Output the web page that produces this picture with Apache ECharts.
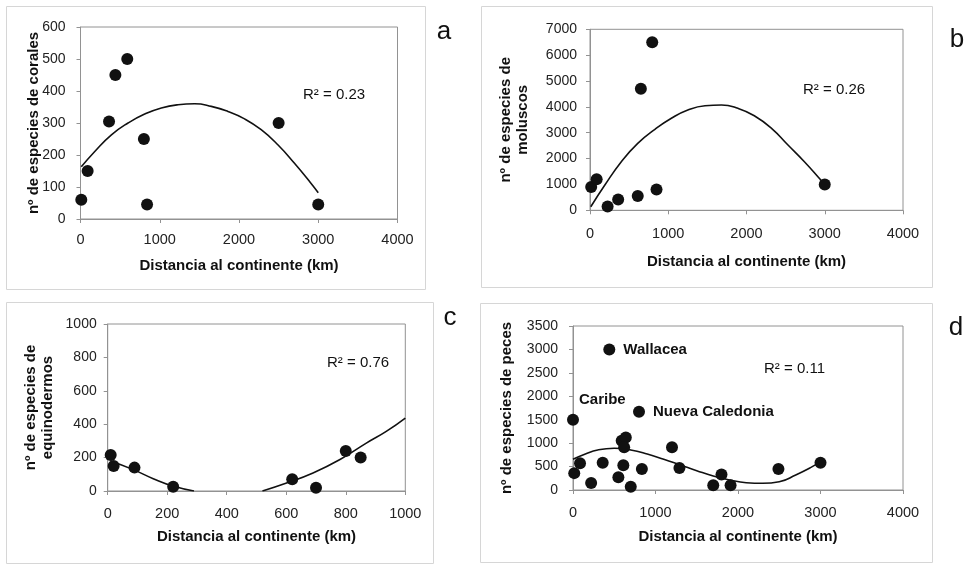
<!DOCTYPE html>
<html>
<head>
<meta charset="utf-8">
<script src="https://cdn.jsdelivr.net/npm/echarts@6/dist/echarts.min.js"></script>
<style>
  html, body { margin: 0; padding: 0; background: #fff; }
  #chart { width: 973px; height: 564px; }
</style>
</head>
<body>
<div id="chart"></div>
<script>
// (a) corales
const coralesDist = [10, 90, 360, 440, 590, 800, 840, 2500, 3000];
const coralesSpp  = [60, 150, 305, 450, 500, 250, 45, 300, 45];
const coralesTrendX = [10, 180, 390, 600, 810, 1020, 1230, 1440, 1650, 1860, 2070, 2280, 2490, 2700, 2910, 3000];
const coralesTrendY = [163, 211, 263, 300, 328, 347, 357, 360, 352, 336, 313, 279, 232, 174, 111, 82];
const coralesR2 = 'R² = 0.23';

// (b) moluscos
const moluscosDist = [15, 85, 225, 360, 610, 650, 795, 850, 3000];
const moluscosSpp  = [900, 1200, 150, 420, 550, 4700, 6500, 800, 1000];
const moluscosTrendX = [10, 190, 400, 610, 830, 1040, 1250, 1470, 1680, 1890, 2100, 2320, 2530, 2740, 2950, 3000];
const moluscosTrendY = [136, 976, 1878, 2590, 3132, 3558, 3879, 4046, 4073, 3945, 3659, 3171, 2524, 1878, 1169, 1003];
const moluscosR2 = 'R² = 0.26';

// (c) equinodermos (trend dips below 0 between the two visible pieces)
const equinoDist = [10, 20, 90, 220, 620, 700, 800, 850];
const equinoSpp  = [215, 150, 140, 25, 70, 20, 240, 200];
const equinoTrendX = [10, 86, 153, 222, 290, null, 520, 601, 690, 779, 869, 936, 1000];
const equinoTrendY = [180, 128, 74, 28, 0, null, 0, 48, 108, 187, 287, 357, 437];
const equinoR2 = 'R² = 0.76';

// (d) peces
const pecesDist = [0, 15, 85, 220, 360, 440, 550, 590, 640, 620, 610, 700, 800, 835, 1200, 1290, 1700, 1800, 1910, 2490, 3000];
const pecesSpp  = [1500, 360, 570, 150, 580, 3000, 270, 1050, 1120, 910, 530, 70, 1670, 450, 910, 470, 100, 330, 100, 450, 580];
const pecesNombres = ['Caribe', '', '', '', '', 'Wallacea', '', '', '', '', '', '', 'Nueva Caledonia', '', '', '', '', '', '', '', ''];
const pecesTrendX = [0, 150, 300, 500, 700, 900, 1100, 1300, 1500, 1700, 1900, 2100, 2300, 2500, 2700, 2900, 3000];
const pecesTrendY = [656, 769, 855, 891, 855, 769, 656, 534, 412, 299, 214, 156, 143, 177, 321, 498, 605];
const pecesR2 = 'R² = 0.11';

const xTitle = 'Distancia al continente (km)';
const yTitles = [
  'nº de especies de corales',
  'nº de especies de\nmoluscos',
  'nº de especies de\nequinodermos',
  'nº de especies de peces'
];
const panelLetters = ['a', 'b', 'c', 'd'];

const FONT = "'Liberation Sans', Arial, sans-serif";
const pairs = (xs, ys) => xs.map((x, i) => (x === null ? [null, null] : [x, ys[i]]));
const plain = v => String(v);

const grids = [
  { left: 80.5, top: 27, width: 317, height: 192 },
  { left: 590, top: 29.3, width: 313, height: 181 },
  { left: 107.7, top: 324, width: 297.6, height: 167 },
  { left: 573, top: 326, width: 330, height: 164 }
].map(g => Object.assign({ show: true, borderColor: '#929292', borderWidth: 1, backgroundColor: '#fff' }, g));

function xAxis(i, max, interval, gap, margin) {
  return {
    type: 'value', gridIndex: i, min: 0, max: max, interval: interval,
    name: xTitle, nameLocation: 'middle', nameGap: gap, nameMoveOverlap: false,
    nameTextStyle: { fontFamily: FONT, fontWeight: 'bold', fontSize: 15, color: '#111' },
    axisLine: { show: true, lineStyle: { color: '#929292', width: 1 } },
    axisTick: { show: true, length: 4, lineStyle: { color: '#929292' } },
    axisLabel: { fontFamily: FONT, fontSize: 14.5, color: '#222', margin: margin, formatter: plain },
    splitLine: { show: false }
  };
}
function yAxis(i, max, interval, gap, margin) {
  return {
    type: 'value', gridIndex: i, min: 0, max: max, interval: interval,
    name: yTitles[i], nameLocation: 'middle', nameGap: gap, nameMoveOverlap: false,
    nameTextStyle: { fontFamily: FONT, fontWeight: 'bold', fontSize: 15, color: '#111', lineHeight: 17, align: 'center' },
    axisLine: { show: true, lineStyle: { color: '#929292', width: 1 } },
    axisTick: { show: true, length: 4, lineStyle: { color: '#929292' } },
    axisLabel: { fontFamily: FONT, fontSize: 14, color: '#222', margin: margin, formatter: plain },
    splitLine: { show: false }
  };
}

const dotStyle = { color: '#111', opacity: 1 };
function dots(i, xs, ys) {
  return {
    type: 'scatter', xAxisIndex: i, yAxisIndex: i, symbolSize: 12,
    itemStyle: dotStyle, data: pairs(xs, ys), z: 3
  };
}
function trend(i, xs, ys) {
  return {
    type: 'line', xAxisIndex: i, yAxisIndex: i, data: pairs(xs, ys),
    smooth: true, showSymbol: false, connectNulls: false, clip: true,
    lineStyle: { color: '#111', width: 1.6 }, z: 2, silent: true
  };
}

const pecesData = pecesDist.map((x, i) => {
  const item = { value: [x, pecesSpp[i]] };
  if (pecesNombres[i]) {
    item.label = {
      show: true, formatter: pecesNombres[i], position: 'right', distance: 8,
      fontFamily: FONT, fontWeight: 'bold', fontSize: 15, color: '#111',
      offset: pecesNombres[i] === 'Caribe' ? [-8, -20] : [0, 0]
    };
  }
  return item;
});

const frames = [
  [6, 6, 419, 283],
  [481, 6, 451, 281],
  [6, 302, 427, 261],
  [480, 303, 452, 259]
];
const letterPos = [[444, 32], [957, 40], [450, 318], [956, 328]];
const r2Pos = [[303, 95, coralesR2], [803, 90, moluscosR2], [327, 363, equinoR2], [764, 369, pecesR2]];

const graphic = [];
frames.forEach(f => graphic.push({
  type: 'rect', shape: { x: f[0] + 0.5, y: f[1] + 0.5, width: f[2], height: f[3] },
  style: { fill: null, stroke: '#d6d6d6', lineWidth: 1 }, z: -10
}));
letterPos.forEach((p, i) => graphic.push({
  type: 'text', x: p[0], y: p[1],
  style: { text: panelLetters[i], fontFamily: FONT, fontSize: 26, fill: '#111', align: 'center', verticalAlign: 'middle' }
}));
r2Pos.forEach(p => graphic.push({
  type: 'text', x: p[0], y: p[1],
  style: { text: p[2], fontFamily: FONT, fontSize: 15, fill: '#111', align: 'left', verticalAlign: 'middle' }, z: 10
}));

const chart = echarts.init(document.getElementById('chart'), null, { renderer: 'canvas' });
chart.setOption({
  backgroundColor: '#fff',
  animation: false,
  grid: grids,
  xAxis: [
    xAxis(0, 4000, 1000, 39, 13),
    xAxis(1, 4000, 1000, 44, 16),
    xAxis(2, 1000, 200, 38, 15),
    xAxis(3, 4000, 1000, 39, 15)
  ],
  yAxis: [
    yAxis(0, 600, 100, 38, 15),
    yAxis(1, 7000, 1000, 59, 13),
    yAxis(2, 1000, 200, 51, 11),
    yAxis(3, 3500, 500, 58, 15)
  ],
  series: [
    trend(0, coralesTrendX, coralesTrendY),
    dots(0, coralesDist, coralesSpp),
    trend(1, moluscosTrendX, moluscosTrendY),
    dots(1, moluscosDist, moluscosSpp),
    trend(2, equinoTrendX, equinoTrendY),
    dots(2, equinoDist, equinoSpp),
    trend(3, pecesTrendX, pecesTrendY),
    { type: 'scatter', xAxisIndex: 3, yAxisIndex: 3, symbolSize: 12, itemStyle: dotStyle, data: pecesData, z: 3 }
  ],
  graphic: graphic
});
</script>
</body>
</html>
